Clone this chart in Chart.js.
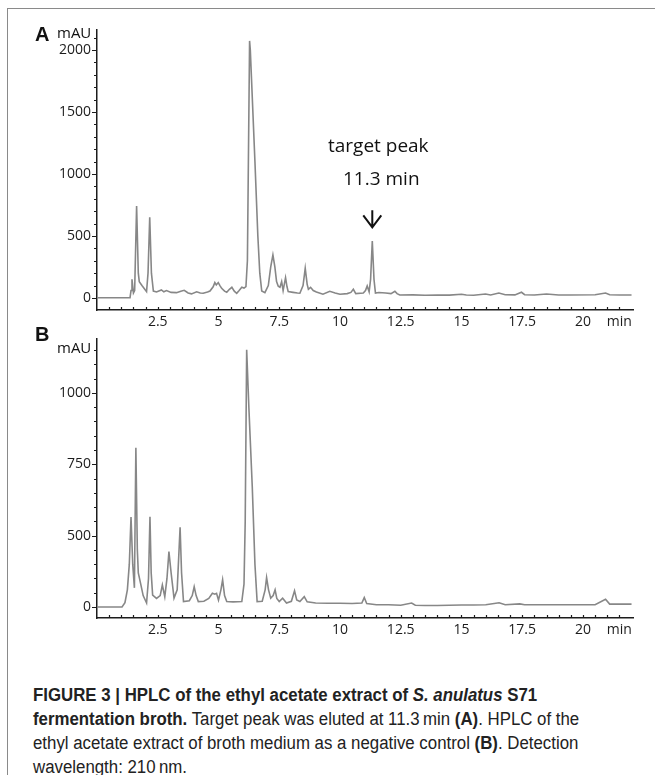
<!DOCTYPE html>
<html>
<head>
<meta charset="utf-8">
<script src="https://cdn.jsdelivr.net/npm/chart.js@4.4.1/dist/chart.umd.min.js"></script>
<style>
  body { margin: 0; background: #fff; }
  #page { position: relative; width: 655px; height: 775px; overflow: hidden; }
  #frame { position: absolute; left: 7px; top: 8px; width: 660px; height: 780px;
           border-left: 1.5px solid #8a8a8a; border-top: 1.5px solid #8a8a8a; }
  canvas { position: absolute; left: 0; }
  .lbl { position: absolute; font-family: "Open Sans", sans-serif; color: #111; line-height: 1; }
  .panel { font-family: "Liberation Sans", Arial, sans-serif; font-weight: bold; font-size: 20px; }
  #caption { position: absolute; left: 33px; top: 683px; font-family: "Liberation Sans", Arial, sans-serif;
             font-size: 18px; line-height: 24px; color: #222; white-space: nowrap;
             transform: scaleX(0.935); transform-origin: 0 0; }
</style>
</head>
<body>
<div id="page">
  <div id="frame"></div>
  <canvas id="chartA" width="655" height="345" style="top:0"></canvas>
  <canvas id="chartB" width="655" height="340" style="top:320px"></canvas>
  <div class="lbl panel" style="left:35px; top:24px">A</div>
  <div class="lbl" style="left:57px; top:25px; font-size:15px">mAU</div>
  <div class="lbl panel" style="left:35px; top:324px">B</div>
  <div class="lbl" style="left:57px; top:340px; font-size:15px">mAU</div>
  <div id="caption">
    <div><b>FIGURE 3 | HPLC of the ethyl acetate extract of <i>S. anulatus</i> S71</b></div>
    <div><b>fermentation broth.</b> Target peak was eluted at 11.3&thinsp;min <b>(A)</b>. HPLC of the</div>
    <div>ethyl acetate extract of broth medium as a negative control <b>(B)</b>. Detection</div>
    <div>wavelength: 210&thinsp;nm.</div>
  </div>
</div>
<script>
// retention time (min) and absorbance (mAU)
const timeA = [0, 1.36, 1.40, 1.44, 1.50, 1.55, 1.63, 1.70, 1.74, 1.85, 1.95, 2.04, 2.10, 2.17, 2.24, 2.32,
  2.45, 2.65, 2.75, 2.86, 3.05, 3.27, 3.45, 3.59, 3.75, 3.89, 4.10, 4.25, 4.37, 4.55, 4.65, 4.78, 4.85,
  4.91, 4.99, 5.06, 5.13, 5.25, 5.34, 5.45, 5.55, 5.65, 5.75, 5.85, 5.96, 6.05, 6.13, 6.19, 6.28, 6.31,
  6.50, 6.62, 6.70, 6.78, 6.91, 7.05, 7.15, 7.24, 7.32, 7.39, 7.46, 7.53, 7.60, 7.66, 7.76, 7.82, 7.87,
  8.07, 8.25, 8.35, 8.48, 8.57, 8.65, 8.70, 8.79, 8.90, 9.03, 9.30, 9.58, 9.80, 10.0, 10.3, 10.45, 10.55,
  10.65, 10.96, 11.05, 11.12, 11.20, 11.26, 11.33, 11.40, 11.46, 11.6, 11.88, 12.1, 12.26, 12.35, 12.46,
  13.0, 13.5, 14.0, 14.5, 15.0, 15.2, 15.5, 15.99, 16.2, 16.54, 16.8, 17.2, 17.47, 17.6, 18.0, 18.5,
  19.0, 19.5, 20.5, 20.93, 21.1, 21.5, 22.0];
const signalA = [2, 2, 60, 150, 40, 60, 742, 200, 132, 100, 75, 51, 200, 651, 200, 56,
  48, 65, 50, 60, 45, 43, 55, 62, 40, 33, 50, 40, 38, 48, 56, 90, 124,
  105, 124, 100, 78, 55, 46, 70, 86, 55, 38, 60, 86, 80, 91, 300, 2073, 2000,
  1100, 500, 200, 56, 43, 100, 250, 347, 250, 132, 95, 86, 132, 60, 164, 90, 51,
  45, 40, 38, 100, 239, 110, 70, 86, 60, 48, 30, 54, 40, 30, 35, 45, 70,
  35, 40, 60, 97, 50, 150, 460, 150, 40, 44, 40, 35, 54, 35, 24,
  25, 22, 24, 23, 30, 24, 22, 32, 24, 40, 26, 25, 46, 26, 24, 32,
  24, 24, 26, 40, 26, 24, 24];

const timeB = [0, 1.03, 1.15, 1.25, 1.33, 1.40, 1.47, 1.54, 1.60, 1.66, 1.70, 1.80, 1.90, 2.04, 2.12, 2.18,
  2.23, 2.29, 2.45, 2.60, 2.69, 2.79, 2.88, 2.96, 3.05, 3.17, 3.30, 3.42, 3.48, 3.56, 3.80, 3.92, 4.00,
  4.08, 4.17, 4.40, 4.60, 4.75, 4.85, 4.92, 5.00, 5.10, 5.17, 5.25, 5.34, 5.60, 5.96, 6.05, 6.10, 6.16,
  6.25, 6.39, 6.50, 6.59, 6.80, 6.92, 6.98, 7.06, 7.15, 7.25, 7.33, 7.40, 7.50, 7.64, 7.80, 8.00, 8.13,
  8.22, 8.35, 8.53, 8.65, 9.0, 9.5, 10.0, 10.5, 10.9, 11.0, 11.1, 11.5, 12.0, 12.5, 12.95, 13.1, 13.5,
  14.0, 14.5, 15.0, 15.5, 16.0, 16.55, 16.8, 17.4, 17.6, 18.5, 19.5, 20.5, 20.93, 21.1, 21.5, 22.0];
const signalB = [0, 0, 15, 60, 150, 315, 150, 67, 558, 200, 119, 80, 40, 14, 100, 316,
  120, 42, 30, 40, 77, 36, 100, 194, 120, 31, 60, 279, 120, 19, 22, 40, 71,
  40, 19, 20, 30, 48, 45, 48, 24, 60, 95, 40, 19, 18, 19, 80, 300, 901,
  700, 422, 150, 19, 20, 60, 103, 60, 31, 40, 60, 30, 19, 31, 14, 20, 57,
  25, 19, 36, 18, 14, 13, 13, 12, 14, 33, 12, 8, 8, 6, 14, 6, 5,
  5, 6, 7, 7, 8, 15, 8, 11, 8, 8, 8, 8, 27, 10, 10, 10];

// axis ticks
const xLabelTicks = [2.5, 5, 7.5, 10, 12.5, 15, 17.5, 20];
const xUnitLabel = 'min';
const yLabelTicksA = [0, 500, 1000, 1500, 2000];
const yTickPosB = [0, 250, 500, 750];
const yTickTextB = ['0', '500', '750', '1000'];

const peakTime = 11.33;

const tickFont = { family: 'Open Sans', size: 14 };
const inkColor = '#1c1c1c';

const axisTicks = {
  id: 'axisTicks',
  afterDraw(chart, args, opts) {
    const ctx = chart.ctx, xs = chart.scales.x, ys = chart.scales.y;
    ctx.save();
    ctx.strokeStyle = inkColor;
    ctx.lineWidth = 1.2;
    ctx.beginPath();
    ys.ticks.forEach(t => {
      const py = Math.round(ys.getPixelForValue(t.value)) + 0.5;
      const len = opts.yMajor.includes(t.value) ? 5 : 3;
      ctx.moveTo(ys.right - len, py);
      ctx.lineTo(ys.right, py);
    });
    xs.ticks.forEach(t => {
      const px = Math.round(xs.getPixelForValue(t.value)) + 0.5;
      ctx.moveTo(px, xs.top);
      ctx.lineTo(px, xs.top - 3);
    });
    ctx.stroke();
    ctx.restore();
  }
};

const peakNote = {
  id: 'peakNote',
  afterDraw(chart) {
    if (!chart.options.plugins.peakNote.show) return;
    const ctx = chart.ctx;
    const px = chart.scales.x.getPixelForValue(peakTime);
    const tip = chart.scales.y.getPixelForValue(570);
    ctx.save();
    ctx.fillStyle = '#111';
    ctx.font = '19px "Open Sans"';
    ctx.textAlign = 'center';
    ctx.textBaseline = 'alphabetic';
    ctx.fillText('target peak', px + 6, tip - 75);
    ctx.fillText('11.3 min', px + 9, tip - 42);
    ctx.strokeStyle = '#111';
    ctx.lineWidth = 2;
    ctx.beginPath();
    ctx.moveTo(px, tip - 17);
    ctx.lineTo(px, tip);
    ctx.moveTo(px - 9, tip - 12);
    ctx.lineTo(px, tip);
    ctx.lineTo(px + 9, tip - 12);
    ctx.stroke();
    ctx.restore();
  }
};

function steps(from, to, step) {
  const out = [];
  for (let v = from; v <= to + 1e-9; v += step) out.push(Math.round(v * 100) / 100);
  return out;
}

function makeChart(id, time, signal, cfg) {
  return new Chart(document.getElementById(id), {
    type: 'line',
    data: {
      datasets: [{
        data: time.map((t, i) => ({ x: t, y: signal[i] })),
        borderColor: '#878787',
        borderWidth: 1.6,
        pointRadius: 0,
        tension: 0
      }]
    },
    options: {
      responsive: false,
      animation: false,
      devicePixelRatio: 1,
      layout: { padding: { left: 0, right: 22, top: cfg.top, bottom: 0 } },
      plugins: {
        legend: { display: false },
        tooltip: { enabled: false },
        axisTicks: { yMajor: cfg.yMajor },
        peakNote: { show: cfg.note }
      },
      scales: {
        x: {
          type: 'linear',
          min: 0,
          max: 22.06,
          afterBuildTicks: s => { s.ticks = steps(0.5, 21.5, 0.5).map(v => ({ value: v })); },
          afterFit: s => { s.height = cfg.xHeight; },
          grid: { display: true, drawOnChartArea: false, drawTicks: false },
          border: { display: true, color: inkColor, width: 1.5 },
          ticks: {
            autoSkip: false, maxRotation: 0, padding: 4, color: inkColor, font: tickFont,
            callback: v => v === 21.5 ? xUnitLabel : (xLabelTicks.includes(v) ? String(v) : '')
          }
        },
        y: {
          min: cfg.yMin,
          max: cfg.yMax,
          afterBuildTicks: s => { s.ticks = cfg.yTicks.map(v => ({ value: v })); },
          afterFit: s => { s.width = 97; },
          grid: { display: true, drawOnChartArea: false, drawTicks: false },
          border: { display: true, color: inkColor, width: 1.5 },
          ticks: {
            autoSkip: false, padding: 6, color: inkColor, font: tickFont,
            callback: cfg.yLabel
          }
        }
      }
    },
    plugins: [axisTicks, peakNote]
  });
}

makeChart('chartA', timeA, signalA, {
  top: 30, xHeight: 35, yMin: -97, yMax: 2161,
  yTicks: steps(0, 2100, 100), yMajor: yLabelTicksA,
  yLabel: v => yLabelTicksA.includes(v) ? String(v) : '',
  note: true
});

makeChart('chartB', timeB, signalB, {
  top: 19, xHeight: 42, yMin: -38.6, yMax: 939,
  yTicks: steps(0, 900, 50), yMajor: yTickPosB,
  yLabel: v => { const i = yTickPosB.indexOf(v); return i >= 0 ? yTickTextB[i] : ''; },
  note: false
});
</script>
</body>
</html>
